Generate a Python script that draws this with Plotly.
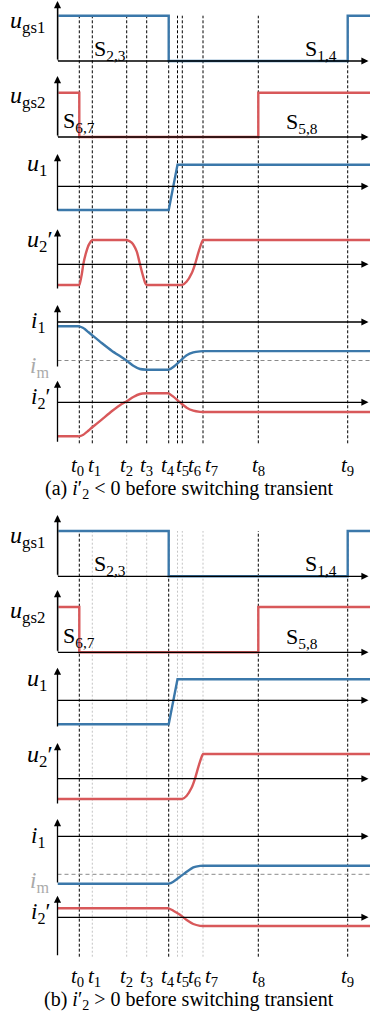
import plotly.graph_objects as go

W, H = 370, 1014
FONT = "Liberation Serif, Times New Roman, serif"
BLUE = "#3B78AA"
RED = "#D8585A"

# ---------------- data ----------------
T_LABELS = ["0", "1", "2", "3", "4", "5", "6", "7", "8", "9"]
T = [21.8, 34.8, 69.2, 89.2, 111.2, 120.0, 124.8, 145.5, 200.8, 290.2]
T_END = 312.5
I_M = -1.0

# panel (a): i2' < 0 before switching transient
ugs1_t = [0, T[4], T[4], T[9], T[9], T_END]
ugs1_v = [1, 1, 0, 0, 1, 1]
ugs2_t = [0, T[0], T[0], T[8], T[8], T_END]
ugs2_v = [1, 1, 0, 0, 1, 1]

u1a_t = [0, T[4], T[5], T_END]
u1a_v = [-1.1, -1.1, 1.0, 1.0]

u2a_t = [0, 20.0, 21.8, 24.2, 25.8, 28.5, 31.5, 34.8, 37.0, 67.0, 69.2, 74.2, 79.2, 82.5,
         85.2, 87.8, 89.2, 91.5, 122.5, 124.8, 129.2, 134.2, 137.5, 140.8, 144.2, 145.5,
         148.0, T_END]
u2a_v = [-0.85, -0.85, -0.85, -0.43, 0.0, 0.47, 0.82, 1.0, 1.0, 1.0, 1.0, 0.89, 0.53, 0.0,
         -0.43, -0.78, -0.85, -0.85, -0.85, -0.85, -0.71, -0.37, 0.0, 0.47, 0.89, 1.0,
         1.0, 1.0]

i1a_t = [0, 19.0, 21.8, 25.8, 30.8, 34.8, 44.2, 54.2, 64.2, 69.2, 75.8, 82.5, 89.2, 92.0,
         108.5, 111.2, 115.8, 122.5, 129.2, 135.8, 142.5, 145.5, 148.0, T_END]
i1a_v = [-0.112, -0.112, -0.112, -0.156, -0.26, -0.346, -0.546, -0.745, -0.917, -1.005,
         -1.135, -1.221, -1.239, -1.239, -1.239, -1.239, -1.17, -1.015, -0.862, -0.79,
         -0.762, -0.757, -0.757, -0.757]

i2a_t = [0, 19.0, 21.8, 25.8, 30.8, 34.8, 44.2, 54.2, 64.2, 69.2, 75.8, 82.5, 89.2, 92.0,
         108.5, 111.2, 115.8, 122.5, 129.2, 135.8, 142.5, 145.5, 148.0, T_END]
i2a_v = [-0.883, -0.883, -0.883, -0.842, -0.738, -0.649, -0.45, -0.234, -0.044, 0.026,
         0.137, 0.216, 0.234, 0.234, 0.234, 0.234, 0.146, 0.0, -0.14, -0.218, -0.248,
         -0.252, -0.252, -0.252]

# panel (b): i2' > 0 before switching transient
u1b_t = [0, T[4], T[5], T_END]
u1b_v = [-1.14, -1.14, 1.0, 1.0]

u2b_t = [0, 122.5, 124.8, 129.2, 134.2, 137.5, 140.8, 144.2, 145.5, 148.0, T_END]
u2b_v = [-0.82, -0.82, -0.82, -0.69, -0.36, 0.0, 0.47, 0.89, 1.0, 1.0, 1.0]

i1b_t = [0, 108.5, 111.2, 115.8, 122.5, 129.2, 135.8, 142.5, 145.5, 148.0, T_END]
i1b_v = [-1.247, -1.247, -1.247, -1.195, -1.063, -0.932, -0.816, -0.778, -0.774, -0.774,
         -0.774]

i2b_t = [0, 108.5, 111.2, 115.8, 122.5, 129.2, 135.8, 142.5, 145.5, 148.0, T_END]
i2b_v = [0.237, 0.237, 0.237, 0.174, 0.068, -0.071, -0.176, -0.225, -0.229, -0.229, -0.229]

# ---------------- layout geometry (pixels) ----------------
X0 = 57.5  # pixel of the time origin
ROWS = [
    # panel a
    dict(zero=61.0, scale=45.3, tip=1.0, bottom=61.0, gray=True),     # ugs1
    dict(zero=137.0, scale=44.3, tip=76.0, bottom=137.0, gray=True),  # ugs2
    dict(zero=186.3, scale=21.6, tip=154.0, bottom=212.0, gray=False),  # u1
    dict(zero=264.3, scale=24.3, tip=229.3, bottom=290.0, gray=False),  # u2'
    dict(zero=322.0, scale=38.5, tip=305.0, bottom=368.0, gray=False),  # i1
    dict(zero=402.3, scale=38.5, tip=380.7, bottom=443.3, gray=False),  # i2'
    # panel b
    dict(zero=576.3, scale=45.3, tip=515.0, bottom=576.3, gray=True),
    dict(zero=652.3, scale=45.3, tip=590.0, bottom=652.3, gray=True),
    dict(zero=700.3, scale=21.0, tip=667.7, bottom=728.0, gray=False),
    dict(zero=778.7, scale=24.7, tip=743.0, bottom=805.0, gray=False),
    dict(zero=836.3, scale=38.0, tip=819.0, bottom=884.0, gray=False),
    dict(zero=917.3, scale=38.0, tip=895.7, bottom=956.7, gray=False),
]

SIGNALS = [
    (0, ugs1_t, ugs1_v, BLUE, "linear"),
    (1, ugs2_t, ugs2_v, RED, "linear"),
    (2, u1a_t, u1a_v, BLUE, "linear"),
    (3, u2a_t, u2a_v, RED, "spline"),
    (4, i1a_t, i1a_v, BLUE, "spline"),
    (5, i2a_t, i2a_v, RED, "spline"),
    (6, ugs1_t, ugs1_v, BLUE, "linear"),
    (7, ugs2_t, ugs2_v, RED, "linear"),
    (8, u1b_t, u1b_v, BLUE, "linear"),
    (9, u2b_t, u2b_v, RED, "spline"),
    (10, i1b_t, i1b_v, BLUE, "spline"),
    (11, i2b_t, i2b_v, RED, "spline"),
]


def yref(i):
    return "y" if i == 0 else f"y{i + 1}"


def ykey(i):
    return "yaxis" if i == 0 else f"yaxis{i + 1}"


def pv(row, px):
    """value in row units at pixel px"""
    return (row["zero"] - px) / row["scale"]


fig = go.Figure()
layout = dict(
    width=W, height=H, margin=dict(l=0, r=0, t=0, b=0),
    paper_bgcolor="white", plot_bgcolor="rgba(0,0,0,0)", showlegend=False,
    font=dict(family=FONT),
    xaxis=dict(domain=[X0 / W, 1], range=[0, T_END], visible=False, fixedrange=True),
)
for i, row in enumerate(ROWS):
    top = max(0.0, row["tip"] - 4)
    bot = min(H, row["bottom"] + 4)
    layout[ykey(i)] = dict(domain=[1 - bot / H, 1 - top / H], range=[pv(row, bot), pv(row, top)],
                          visible=False, fixedrange=True, anchor="x")

shapes = []
annotations = []

# vertical time markers
for panel, (ytop, ybot) in enumerate([(15.7, 443.3), (531.0, 956.7)]):
    for k, tk in enumerate(T):
        if panel == 1 and k not in (0, 4, 8, 9):
            col, dash = "#c4c4c4", "2px,2px"
        else:
            col, dash = "black", "3px,2px"
        shapes.append(dict(type="line", xref="x", yref="paper", x0=tk, x1=tk,
                           y0=1 - ybot / H, y1=1 - ytop / H, layer="below",
                           line=dict(color=col, width=1, dash=dash)))

# i_m dashed reference lines
for i in (4, 10):
    shapes.append(dict(type="line", xref="x", yref=yref(i), x0=0, x1=T_END, y0=I_M, y1=I_M,
                       layer="below", line=dict(color="#8a8a8a", width=1, dash="4px,3px")))

# axes with arrows
for i, row in enumerate(ROWS):
    annotations.append(dict(x=T_END - 1.5, y=0, xref="x", yref=yref(i), ax=-1.0, ay=0,
                            axref="x", ayref=yref(i), text="", showarrow=True, arrowhead=2,
                            arrowsize=1.1, arrowwidth=1.3, arrowcolor="black", standoff=0,
                            startstandoff=0))
    annotations.append(dict(x=0, y=pv(row, row["tip"]), xref="x", yref=yref(i), ax=0,
                            ay=pv(row, row["bottom"]), axref="x", ayref=yref(i), text="",
                            showarrow=True, arrowhead=2, arrowsize=1.1, arrowwidth=1.3,
                            arrowcolor="black", standoff=0, startstandoff=0))
    if row["gray"]:
        shapes.append(dict(type="line", xref="x", yref=yref(i), x0=0, x1=0,
                           y0=pv(row, row["bottom"]), y1=pv(row, row["tip"] + 6),
                           line=dict(color="#777", width=2.2)))

for (ri, tt, vv, col, shp) in SIGNALS:
    fig.add_trace(go.Scatter(x=tt, y=vv, xaxis="x", yaxis=yref(ri), mode="lines",
                             line=dict(color=col, width=2.4, shape=shp, smoothing=0.6),
                             hoverinfo="skip"))


def txt(text, x, y, size, color="black", xanchor="left"):
    annotations.append(dict(text=text, x=x / W, y=1 - y / H, xref="paper", yref="paper",
                            xanchor=xanchor, yanchor="middle", showarrow=False,
                            font=dict(family=FONT, size=size, color=color)))


for off in (0, 515):
    txt("<i>u</i><sub>gs1</sub>", 8, 22 + off, 24)
    txt("<i>u</i><sub>gs2</sub>", 8, 97 + off, 24)
    txt("<i>u</i><sub>1</sub>", 25, 165 + off, 24)
    txt("<i>u</i><sub>2</sub>′", 25, 241 + off, 24)
    txt("<i>i</i><sub>1</sub>", 29, 322 + off, 23)
    txt("<i>i</i><sub>m</sub>", 28, 367 + off, 23, color="#aaaaaa")
    txt("<i>i</i><sub>2</sub>′", 29, 398 + off, 23)
    txt("S<sub>2,3</sub>", 92, 50 + off, 22)
    txt("S<sub>1,4</sub>", 303, 50 + off, 22)
    txt("S<sub>6,7</sub>", 61, 122 + off, 22)
    txt("S<sub>5,8</sub>", 284, 123 + off, 22)

LABEL_NUDGE = {0: -2, 1: 2.5, 4: -1, 5: 5, 6: 12.5, 7: 8.5}
for ly in (466, 977):
    for k, tk in enumerate(T):
        xpx = X0 + tk + LABEL_NUDGE.get(k, 0)
        txt(f"<i>t</i><sub>{T_LABELS[k]}</sub>", xpx, ly, 21, xanchor="center")

txt("(a) <i>i</i>′<sub>2</sub> &lt; 0 before switching transient", 189, 489, 20,
    xanchor="center")
txt("(b) <i>i</i>′<sub>2</sub> &gt; 0 before switching transient", 189, 1000, 20,
    xanchor="center")

layout["shapes"] = shapes
layout["annotations"] = annotations
fig.update_layout(**layout)
fig.write_html("out.html", config={"displayModeBar": False})
